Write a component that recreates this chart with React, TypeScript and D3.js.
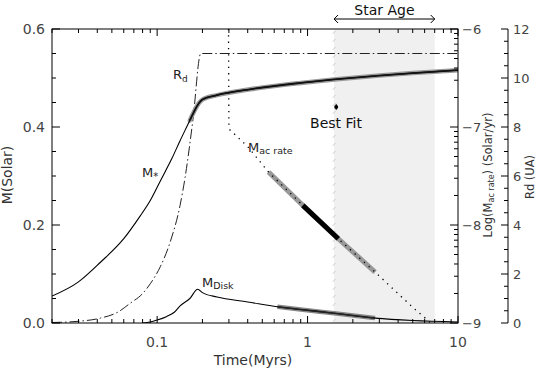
import React from "react";
import * as d3 from "d3";

const W = 538;
const H = 374;
const box = { left: 52, right: 458, top: 29, bottom: 323 };

// stellar mass M* (solar)
const starTime = [0.02, 0.03, 0.042, 0.06, 0.077, 0.09, 0.105, 0.125, 0.142, 0.16, 0.175, 0.19, 0.2, 0.25, 0.415, 0.9, 1.5, 3, 5, 10];
const starMass = [0.055, 0.084, 0.124, 0.172, 0.218, 0.25, 0.29, 0.335, 0.372, 0.405, 0.43, 0.449, 0.456, 0.465, 0.477, 0.49, 0.497, 0.505, 0.51, 0.516];

// disk mass M_disk (solar)
const diskTime = [0.08, 0.09, 0.1, 0.115, 0.13, 0.142, 0.165, 0.186, 0.2, 0.25, 0.4, 0.63, 0.93, 1.5, 2.81, 5, 10];
const diskMass = [0, 0.002, 0.006, 0.013, 0.022, 0.035, 0.05, 0.069, 0.062, 0.053, 0.043, 0.033, 0.027, 0.02, 0.01, 0.005, 0.002];

// disk radius Rd (UA)
const rdTime = [0.02, 0.03, 0.042, 0.055, 0.066, 0.08, 0.09, 0.105, 0.122, 0.142, 0.153, 0.173, 0.195, 10];
const rdValue = [0.02, 0.07, 0.2, 0.45, 0.8, 1.2, 1.6, 2.3, 3.3, 4.8, 5.9, 8.3, 11, 11];

// log10 accretion rate (solar/yr)
const macTime = [0.298, 0.3, 0.4, 0.55, 0.93, 1.6, 2.81, 5, 6.6];
const macLog = [-6, -7.02, -7.2, -7.46, -7.8, -8.14, -8.48, -8.84, -9.0];

// fitted ranges
const starFit = [0.165, 10];
const diskFit = [0.63, 2.81];
const macFit = [0.55, 2.81];
const macBest = [0.93, 1.6];
const starAge = [1.5, 7.0];
const bestFit = { time: 1.55, mass: 0.441 };

const massTicks = [0, 0.2, 0.4, 0.6];
const rateTicks = [-6, -7, -8, -9];
const rdTicks = [0, 2, 4, 6, 8, 10, 12];
const timeTicks = [0.1, 1, 10];

const x = d3.scaleLog().domain([0.02, 10]).range([box.left, box.right]);
const yMass = d3.scaleLinear().domain([0, 0.6]).range([box.bottom, box.top]);
const yRate = d3.scaleLinear().domain([-9, -6]).range([box.bottom, box.top]);
const yRd = d3.scaleLinear().domain([0, 12]).range([box.bottom, box.top]);

const FONT = "DejaVu Sans";

function pts(t: number[], v: number[]): [number, number][] {
  return t.map((d, i) => [d, v[i]] as [number, number]);
}

// part of a curve between lo and hi (interpolated in log time)
function part(t: number[], v: number[], lo: number, hi: number): [number, number][] {
  const at = (q: number) => {
    for (let i = 0; i < t.length - 1; i++) {
      if (q >= t[i] && q <= t[i + 1]) {
        const f = (Math.log(q) - Math.log(t[i])) / (Math.log(t[i + 1]) - Math.log(t[i]));
        return v[i] + f * (v[i + 1] - v[i]);
      }
    }
    return v[v.length - 1];
  };
  const out: [number, number][] = [[lo, at(lo)]];
  t.forEach((d, i) => {
    if (d > lo && d < hi) out.push([d, v[i]]);
  });
  out.push([hi, at(hi)]);
  return out;
}

const massLine = d3.line<[number, number]>().x((d) => x(d[0])).y((d) => yMass(d[1])).curve(d3.curveMonotoneX);
const rateLine = d3.line<[number, number]>().x((d) => x(d[0])).y((d) => yRate(d[1]));
const rdLine = d3.line<[number, number]>().x((d) => x(d[0])).y((d) => yRd(d[1])).curve(d3.curveMonotoneX);

export default function App() {
  const xMinor: number[] = [];
  for (let n = -2; n <= 0; n++) for (let k = 1; k <= 9; k++) {
    const v = k * Math.pow(10, n);
    if (v >= 0.02 - 1e-9 && v <= 10) xMinor.push(v);
  }
  xMinor.push(10);
  const massMinor = d3.range(0, 0.601, 0.05);
  const rateMinor: number[] = [];
  for (let n = -9; n < -6; n++) for (let k = 2; k <= 9; k++) rateMinor.push(n + Math.log10(k));
  const rdMinor = d3.range(0, 12.01, 0.5);

  const xh = x(starAge[0]);
  const xe = x(starAge[1]);
  const hatch = d3.range(box.top + 2, box.bottom, 8);
  const isMajorX = (v: number) => Math.abs(Math.log10(v) - Math.round(Math.log10(v))) < 1e-6;

  return (
    <svg width={W} height={H} style={{ position: "absolute", left: 0, top: 0, background: "#fff" }} fontFamily={FONT}>
      <defs>
        <clipPath id="plot">
          <rect x={box.left} y={box.top} width={box.right - box.left} height={box.bottom - box.top} />
        </clipPath>
      </defs>

      {/* star age band */}
      <rect x={xh} y={box.top} width={xe - xh} height={box.bottom - box.top} fill="#f0f0f0" />
      {hatch.map((y, i) => (
        <line key={i} x1={xh - 1.5} y1={y + 3} x2={xh + 1.5} y2={y} stroke="#c4c4c4" strokeWidth={0.8} />
      ))}

      <g clipPath="url(#plot)" fill="none">
        {/* Rd */}
        <path d={rdLine(pts(rdTime, rdValue)) || ""} stroke="#222" strokeWidth={1} strokeDasharray="10 3 1.5 3" />
        {/* M* */}
        <path d={massLine(part(starTime, starMass, starFit[0], starFit[1])) || ""} stroke="#9a9a9a" strokeWidth={4.5} strokeLinecap="round" />
        <path d={massLine(pts(starTime, starMass)) || ""} stroke="#000" strokeWidth={1.1} />
        <path d={massLine(part(starTime, starMass, starFit[0], starFit[1])) || ""} stroke="#111" strokeWidth={1.8} />
        {/* M disk */}
        <path d={massLine(part(diskTime, diskMass, diskFit[0], diskFit[1])) || ""} stroke="#888" strokeWidth={4.5} />
        <path d={massLine(pts(diskTime, diskMass)) || ""} stroke="#000" strokeWidth={1.1} />
        <path d={massLine(part(diskTime, diskMass, diskFit[0], diskFit[1])) || ""} stroke="#222" strokeWidth={1.6} />
        {/* accretion rate */}
        <path d={rateLine(part(macTime, macLog, macFit[0], macFit[1])) || ""} stroke="#999" strokeWidth={5} />
        <path d={rateLine(part(macTime, macLog, macBest[0], macBest[1])) || ""} stroke="#000" strokeWidth={5} />
        <path d={rateLine(pts(macTime, macLog)) || ""} stroke="#000" strokeWidth={1.3} strokeDasharray="1.3 5" />
      </g>

      {/* frame */}
      <rect x={box.left} y={box.top} width={box.right - box.left} height={box.bottom - box.top} fill="none" stroke="#000" strokeWidth={1} />

      {/* x ticks */}
      {xMinor.map((v, i) => {
        const len = isMajorX(v) ? 7 : 4;
        return (
          <g key={i} stroke="#000" strokeWidth={1}>
            <line x1={x(v)} x2={x(v)} y1={box.bottom} y2={box.bottom - len} />
            <line x1={x(v)} x2={x(v)} y1={box.top} y2={box.top + len} />
          </g>
        );
      })}
      {timeTicks.map((v) => (
        <text key={v} x={x(v)} y={347} textAnchor="middle" fontSize={14} fill="#444">{v}</text>
      ))}
      <text x={253} y={365} textAnchor="middle" fontSize={14} fill="#333">Time(Myrs)</text>

      {/* left axis */}
      {massMinor.map((v, i) => {
        const major = i % 4 === 0;
        return <line key={i} x1={box.left} x2={box.left + (major ? 8 : 4)} y1={yMass(v)} y2={yMass(v)} stroke="#000" />;
      })}
      {massTicks.map((v) => (
        <text key={v} x={45} y={yMass(v)} dy="0.35em" textAnchor="end" fontSize={14} fill="#444">{v.toFixed(1)}</text>
      ))}
      <text transform={`translate(12,175) rotate(-90)`} textAnchor="middle" fontSize={14} fill="#333">M(Solar)</text>

      {/* right log rate axis */}
      {rateTicks.map((v) => (
        <g key={v}>
          <line x1={box.right} x2={box.right - 8} y1={yRate(v)} y2={yRate(v)} stroke="#000" />
          <text x={462} y={yRate(v)} dy="0.35em" fontSize={13} fill="#444">{"\u2212" + Math.abs(v)}</text>
        </g>
      ))}
      {rateMinor.map((v, i) => (
        <line key={i} x1={box.right} x2={box.right - 4} y1={yRate(v)} y2={yRate(v)} stroke="#000" />
      ))}
      <text transform={`translate(492,175) rotate(-90)`} textAnchor="middle" fontSize={11.5} fill="#333">
        Log(M<tspan fontSize={8} dy={2}>ac rate</tspan><tspan dy={-2}>) (Solar/yr)</tspan>
      </text>

      {/* Rd axis */}
      <line x1={508} x2={508} y1={box.top} y2={box.bottom} stroke="#000" />
      {rdMinor.map((v, i) => {
        const major = i % 4 === 0;
        return <line key={i} x1={508} x2={508 - (major ? 7 : 4)} y1={yRd(v)} y2={yRd(v)} stroke="#000" />;
      })}
      {rdTicks.map((v) => (
        <text key={v} x={513} y={yRd(v)} dy="0.35em" fontSize={13} fill="#444">{v}</text>
      ))}
      <text transform={`translate(534,177) rotate(-90)`} textAnchor="middle" fontSize={11.5} fill="#333">Rd (UA)</text>

      {/* curve labels */}
      <text x={142} y={177} fontSize={13} fill="#222">M<tspan fontSize={10} dy={3}>*</tspan></text>
      <text x={173} y={79} fontSize={13} fill="#222">R<tspan fontSize={9} dy={3}>d</tspan></text>
      <text x={248} y={152} fontSize={13} fill="#222">M<tspan fontSize={9.5} dy={2}>ac rate</tspan></text>
      <text x={202} y={287} fontSize={13} fill="#222">M<tspan fontSize={9.5} dy={2}>Disk</tspan></text>

      {/* best fit */}
      <line x1={x(bestFit.time)} x2={x(bestFit.time)} y1={yMass(bestFit.mass) - 3} y2={yMass(bestFit.mass) + 3} stroke="#000" />
      <circle cx={x(bestFit.time)} cy={yMass(bestFit.mass)} r={2} fill="#000" />
      <text x={336} y={128} textAnchor="middle" fontSize={14} fill="#111">Best Fit</text>

      {/* star age arrow */}
      <line x1={xh} x2={xe} y1={19} y2={19} stroke="#000" />
      <path d={`M${xh + 4},15 L${xh},19 L${xh + 4},23`} fill="none" stroke="#000" />
      <path d={`M${xe - 4},15 L${xe},19 L${xe - 4},23`} fill="none" stroke="#000" />
      <text x={(xh + xe) / 2} y={15} textAnchor="middle" fontSize={14} fill="#111">Star Age</text>
    </svg>
  );
}
